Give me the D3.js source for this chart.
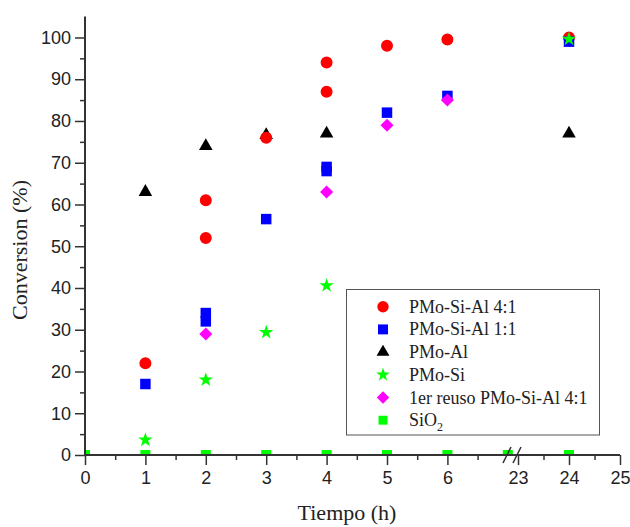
<html>
<head>
<style>
  body { margin: 0; background: #fff; }
  .tick text { font-family: "Liberation Sans", Arial, sans-serif; font-size: 18px; fill: #222; }
</style>
</head>
<body>
<svg id="chart" width="630" height="527"></svg>
<script src="https://d3js.org/d3.v7.min.js"></script>
<script>
// data
var seriesNames = ["PMo-Si-Al 4:1", "PMo-Si-Al 1:1", "PMo-Al", "PMo-Si", "1er reuso PMo-Si-Al 4:1", "SiO2"];

var redTimes = [1, 2, 2, 3, 4, 4, 5, 6, 24];
var redValues = [22, 61, 52, 76, 94, 87, 98, 99.5, 100];

var blueTimes = [1, 2, 2, 3, 4, 4, 5, 6, 24];
var blueValues = [17, 34, 32, 56.5, 69, 68, 82, 86, 99];

var blackTimes = [1, 2, 3, 4, 24];
var blackValues = [63, 74, 76.6, 77, 77];

var starTimes = [1, 2, 3, 4, 24];
var starValues = [3.6, 18, 29.4, 40.6, 99.6];

var pinkTimes = [2, 4, 5, 6];
var pinkValues = [29, 63, 79, 85];

var sioTimes = [0, 1, 2, 3, 4, 5, 6, 7, 24];
var sioValues = [0, 0, 0, 0, 0, 0, 0, 0, 0];

var xTicksLeft = [0, 1, 2, 3, 4, 5, 6];
var xTicksRight = [23, 24, 25];
var yTicks = [0, 10, 20, 30, 40, 50, 60, 70, 80, 90, 100];

var svg = d3.select("#chart");

// broken x axis: two linear pieces
var xLeft = d3.scaleLinear().domain([0, 7]).range([85, 507.8]);
var xRight = d3.scaleLinear().domain([23, 25]).range([518, 620]);
function xPos(t) {
    return t <= 7 ? xLeft(t) : xRight(t);
}
var y = d3.scaleLinear().domain([0, 105]).range([455, 16.6]);

var axisColor = "#333";

// markers are clipped at the axes like in the original
svg.append("clipPath").attr("id", "plotClip")
    .append("rect")
    .attr("x", 85).attr("y", 0)
    .attr("width", 545).attr("height", 456);

// marker styles
var styles = [
    { type: d3.symbolCircle, size: 113, color: "#ff0000", rot: 0 },
    { type: d3.symbolSquare, size: 110, color: "#0000ff", rot: 0 },
    { type: d3.symbolTriangle, size: 80, color: "#000000", rot: 0 },
    { type: d3.symbolStar, size: 65, color: "#00ff00", rot: 0 },
    { type: d3.symbolSquare, size: 85, color: "#ff00ff", rot: 45 },
    { type: d3.symbolSquare, size: 100, color: "#00ff00", rot: 0 }
];

var plot = svg.append("g").attr("clip-path", "url(#plotClip)");

function drawSeries(times, values, st) {
    plot.append("g").selectAll("path")
        .data(times.map(function(t, i) { return [t, values[i]]; }))
        .join("path")
        .attr("d", d3.symbol().type(st.type).size(st.size))
        .attr("transform", function(d) {
            return "translate(" + xPos(d[0]) + "," + y(d[1]) + ") rotate(" + st.rot + ")";
        })
        .attr("fill", st.color);
}

drawSeries(blackTimes, blackValues, styles[2]);
drawSeries(redTimes, redValues, styles[0]);
drawSeries(blueTimes, blueValues, styles[1]);
drawSeries(pinkTimes, pinkValues, styles[4]);
drawSeries(starTimes, starValues, styles[3]);
drawSeries(sioTimes, sioValues, styles[5]);

// y axis
var yMinor = d3.range(5, 105, 10);
svg.append("g")
    .attr("transform", "translate(85,0)")
    .call(d3.axisLeft(y).tickValues(yMinor).tickSize(5).tickFormat(""))
    .call(function(g) { g.select(".domain").remove(); })
    .selectAll("line").attr("stroke", axisColor).attr("stroke-width", 1.5);
var yAx = svg.append("g")
    .attr("transform", "translate(85,0)")
    .call(d3.axisLeft(y).tickValues(yTicks).tickSize(10).tickPadding(4));
yAx.select(".domain").remove();
yAx.selectAll("line").attr("stroke", axisColor).attr("stroke-width", 1.5);
svg.append("line")
    .attr("x1", 85).attr("x2", 85)
    .attr("y1", y(105)).attr("y2", y(0))
    .attr("stroke", axisColor).attr("stroke-width", 2);

// x axis, both pieces
function minorTicks(scale, vals) {
    svg.append("g")
        .attr("transform", "translate(0,455)")
        .call(d3.axisBottom(scale).tickValues(vals).tickSize(5).tickFormat(""))
        .call(function(g) { g.select(".domain").remove(); })
        .selectAll("line").attr("stroke", axisColor).attr("stroke-width", 1.5);
}
minorTicks(xLeft, [0.5, 1.5, 2.5, 3.5, 4.5, 5.5, 6.5]);
minorTicks(xRight, [23.5, 24.5]);

[[xLeft, xTicksLeft], [xRight, xTicksRight]].forEach(function(p) {
    var g = svg.append("g")
        .attr("transform", "translate(0,455)")
        .call(d3.axisBottom(p[0]).tickValues(p[1]).tickSize(10).tickPadding(6).tickFormat(d3.format("d")));
    g.select(".domain").remove();
    g.selectAll("line").attr("stroke", axisColor).attr("stroke-width", 1.5);
});
svg.append("line")
    .attr("x1", 84).attr("x2", 620)
    .attr("y1", 455).attr("y2", 455)
    .attr("stroke", axisColor).attr("stroke-width", 2);

// break marks
[507, 517].forEach(function(bx) {
    svg.append("line")
        .attr("x1", bx - 4).attr("y1", 463)
        .attr("x2", bx + 4).attr("y2", 447)
        .attr("stroke", axisColor).attr("stroke-width", 1.5);
});

// axis titles
svg.append("text")
    .attr("transform", "translate(27,250) rotate(-90)")
    .attr("text-anchor", "middle")
    .style("font-family", "'Liberation Serif', 'Times New Roman', serif")
    .style("font-size", "22px").attr("fill", "#222")
    .text("Conversion (%)");
svg.append("text")
    .attr("x", 347).attr("y", 520)
    .attr("text-anchor", "middle")
    .style("font-family", "'Liberation Serif', 'Times New Roman', serif")
    .style("font-size", "22px").attr("fill", "#222")
    .text("Tiempo (h)");

// legend
var leg = svg.append("g");
leg.append("rect")
    .attr("x", 346.5).attr("y", 289.5)
    .attr("width", 253).attr("height", 145.5)
    .attr("fill", "#fff").attr("stroke", "#555").attr("stroke-width", 1);

seriesNames.forEach(function(name, i) {
    var st = styles[i];
    var ly = 306.7 + i * 22.7;
    leg.append("path")
        .attr("d", d3.symbol().type(st.type).size(i === 5 ? 80 : st.size * 0.9))
        .attr("transform", "translate(383," + ly + ") rotate(" + st.rot + ")")
        .attr("fill", st.color);
    var t = leg.append("text")
        .attr("x", 409).attr("y", ly + 6)
        .style("font-family", "'Liberation Serif', 'Times New Roman', serif")
        .style("font-size", "18px").attr("fill", "#222");
    if (name === "SiO2") {
        t.append("tspan").text("SiO");
        t.append("tspan").attr("dy", 5).style("font-size", "12px").text("2");
    } else {
        t.text(name);
    }
});
</script>
</body>
</html>
